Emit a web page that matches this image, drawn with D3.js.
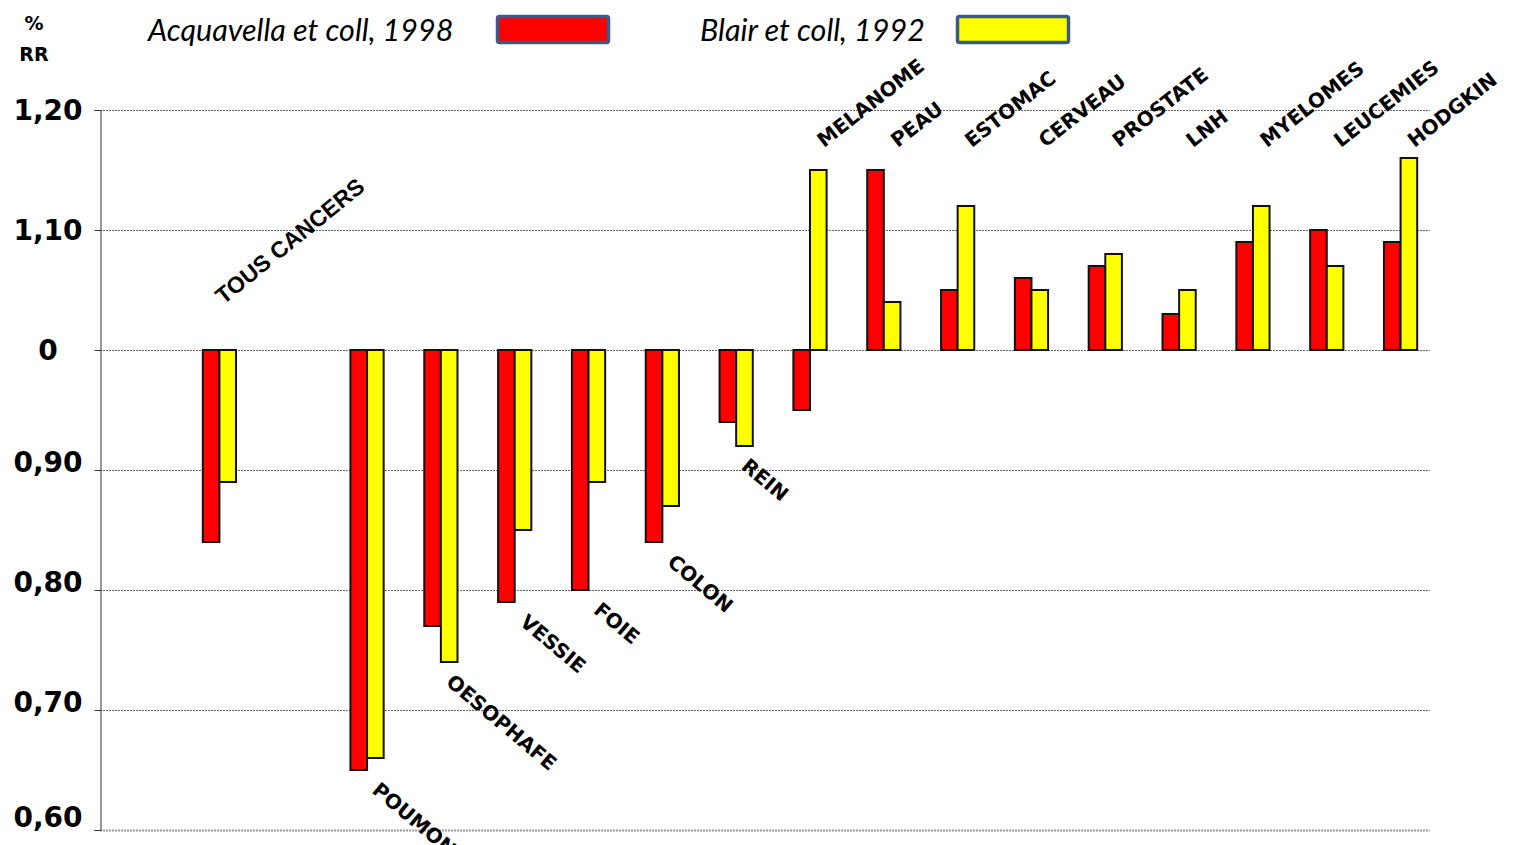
<!DOCTYPE html>
<html>
<head>
<meta charset="utf-8">
<script src="https://cdn.jsdelivr.net/npm/d3@7.9.0/dist/d3.min.js"></script>
<style>
  body { margin: 0; background: #fff; }
  svg { display: block; }
  .cat { font-family: "DejaVu Sans", sans-serif; font-weight: bold; font-size: 20px; fill: #000; }
  .unit { font-family: "DejaVu Sans", sans-serif; font-weight: bold; font-size: 19px; fill: #000; }
  .tick-label { font-family: "DejaVu Sans", sans-serif; font-weight: bold; font-size: 28px; fill: #000; }
  .legend-text { font-family: Lato, "Open Sans", sans-serif; font-style: italic; font-size: 30.5px; fill: #000; }
</style>
</head>
<body>
<svg id="chart" width="1517" height="845"></svg>
<script>
const categories = ['TOUS CANCERS', 'POUMON', 'OESOPHAFE', 'VESSIE', 'FOIE', 'COLON', 'REIN',
    'MELANOME', 'PEAU', 'ESTOMAC', 'CERVEAU', 'PROSTATE', 'LNH', 'MYELOMES', 'LEUCEMIES', 'HODGKIN'];
const acquavella = [0.84, 0.65, 0.77, 0.79, 0.80, 0.84, 0.94, 0.95, 1.15, 1.05, 1.06, 1.07, 1.03, 1.09, 1.10, 1.09];
const blair = [0.89, 0.66, 0.74, 0.85, 0.89, 0.87, 0.92, 1.15, 1.04, 1.12, 1.05, 1.08, 1.05, 1.12, 1.07, 1.16];
const tickValues = [1.2, 1.1, 1.0, 0.9, 0.8, 0.7, 0.6];
const tickLabels = ['1,20', '1,10', '0', '0,90', '0,80', '0,70', '0,60'];
const seriesNames = ['Acquavella et coll, 1998', 'Blair et coll, 1992'];
const colors = ['#ff0000', '#ffff00'];

const svg = d3.select('#chart');
const baseline = 1.0;

// one empty slot after "TOUS CANCERS"
const slots = [categories[0], '__gap__', ...categories.slice(1)];

const x = d3.scaleBand()
    .domain(slots)
    .range([182.5, 1437.5])
    .paddingInner(0.55)
    .paddingOuter(0.275);

const xs = d3.scaleBand().domain([0, 1]).range([0, x.bandwidth()]);

const y = d3.scaleLinear().domain([0.6, 1.2]).range([830, 110]);

const axisX = 100;
const gridEnd = 1430;

// grid lines
svg.append('g')
    .selectAll('line')
    .data(tickValues)
    .join('line')
    .attr('x1', axisX)
    .attr('x2', gridEnd)
    .attr('y1', d => y(d) + 0.5)
    .attr('y2', d => y(d) + 0.5)
    .attr('stroke', d => d === 0.6 ? '#999' : '#666')
    .attr('stroke-width', d => d === 0.6 ? 2 : 1)
    .attr('stroke-dasharray', '2,1');

// y axis line and ticks
let yAxis = d3.axisLeft(y)
    .tickValues(tickValues)
    .tickSize(6)
    .tickFormat('');
svg.append('g')
    .attr('transform', `translate(${axisX + 0.5},0)`)
    .call(yAxis)
    .call(g => g.selectAll('path, line').attr('stroke', '#333'));

// labels below the baseline sit a bit above their grid line
svg.append('g')
    .selectAll('text')
    .data(tickValues)
    .join('text')
    .attr('class', 'tick-label')
    .attr('x', 48)
    .attr('y', d => Math.min(y(d) - (d < baseline ? 8 : 0), 817))
    .attr('dy', '0.36em')
    .attr('text-anchor', 'middle')
    .text((d, i) => tickLabels[i]);

// units
svg.append('text').attr('class', 'unit').attr('x', 34).attr('y', 30)
    .attr('text-anchor', 'middle').text('%');
svg.append('text').attr('class', 'unit').attr('x', 34).attr('y', 61)
    .attr('text-anchor', 'middle').text('RR');

// bars
const rows = categories.map((c, i) => ({ cat: c, values: [acquavella[i], blair[i]] }));

const groups = svg.append('g')
    .selectAll('g')
    .data(rows)
    .join('g')
    .attr('transform', d => `translate(${x(d.cat)},0)`);

groups.selectAll('rect')
    .data(d => d.values)
    .join('rect')
    .attr('x', (d, i) => xs(i))
    .attr('width', xs.bandwidth())
    .attr('y', d => Math.min(y(d), y(baseline)))
    .attr('height', d => Math.abs(y(d) - y(baseline)))
    .attr('fill', (d, i) => colors[i])
    .attr('stroke', '#111')
    .attr('stroke-width', 2);

// category labels
const labels = svg.append('g');
rows.forEach((d, i) => {
    let cx = x(d.cat) + x.bandwidth() / 2;
    let lo = d3.min(d.values);
    let hi = d3.max(d.values);
    let t = labels.append('text').attr('class', 'cat').text(d.cat);
    if (i === 0) {
        t.attr('transform', `translate(${cx + 4},${y(baseline) - 45}) rotate(-39)`)
            .style('font-family', '"Liberation Sans", Arial, sans-serif')
            .style('font-size', '23px');
    } else if (hi <= baseline) {
        t.attr('transform', `translate(${cx + 4},${y(lo) + 22}) rotate(40)`);
    } else {
        t.attr('transform', `translate(${cx + 14},148) rotate(-38)`);
    }
});

// legend
const legendX = [148, 700];
const boxX = [496, 956];
seriesNames.forEach((name, i) => {
    svg.append('text')
        .attr('class', 'legend-text')
        .attr('x', legendX[i])
        .attr('y', 41)
        .text(name);
    svg.append('rect')
        .attr('x', boxX[i] + 1.5)
        .attr('y', 16.5)
        .attr('width', 111)
        .attr('height', 26)
        .attr('rx', 2)
        .attr('fill', colors[i])
        .attr('stroke', '#3a5a88')
        .attr('stroke-width', 3.5);
});
</script>
</body>
</html>
